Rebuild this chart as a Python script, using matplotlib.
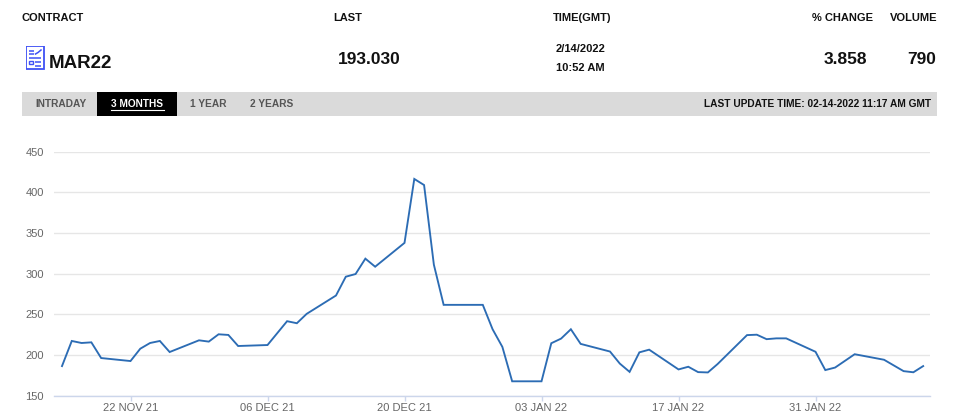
import matplotlib
matplotlib.use("Agg")
import matplotlib.pyplot as plt
import matplotlib.dates as mdates
from matplotlib.patches import Rectangle
from matplotlib.lines import Line2D
import datetime as dt

# ---------------- data ----------------
dates = [
    "2021-11-15", "2021-11-16", "2021-11-17", "2021-11-18", "2021-11-19",
    "2021-11-22", "2021-11-23", "2021-11-24", "2021-11-25", "2021-11-26",
    "2021-11-29", "2021-11-30", "2021-12-01", "2021-12-02", "2021-12-03",
    "2021-12-06", "2021-12-08", "2021-12-09", "2021-12-10",
    "2021-12-13", "2021-12-14", "2021-12-15", "2021-12-16", "2021-12-17",
    "2021-12-20", "2021-12-21", "2021-12-22", "2021-12-23", "2021-12-24",
    "2021-12-28", "2021-12-29", "2021-12-30", "2021-12-31",
    "2022-01-03", "2022-01-04", "2022-01-05", "2022-01-06", "2022-01-07",
    "2022-01-10", "2022-01-11", "2022-01-12", "2022-01-13", "2022-01-14",
    "2022-01-17", "2022-01-18", "2022-01-19", "2022-01-20", "2022-01-21",
    "2022-01-24", "2022-01-25", "2022-01-26", "2022-01-27", "2022-01-28",
    "2022-01-31", "2022-02-01", "2022-02-02", "2022-02-04",
    "2022-02-07", "2022-02-09", "2022-02-10", "2022-02-11",
]
prices = [
    186.4, 217.3, 214.8, 215.6, 196.3,
    192.6, 207.8, 214.8, 217.3, 203.7,
    218.1, 216.5, 225.5, 224.7, 211.1,
    212.3, 241.6, 239.1, 250.6,
    273.2, 296.3, 299.6, 318.5, 308.6,
    337.9, 416.5, 409.0, 311.1, 261.7,
    261.7, 231.7, 210.0, 167.7,
    167.7, 214.5, 220.2, 231.7, 213.7,
    204.3, 189.5, 179.3, 203.3, 206.6,
    182.3, 185.6, 179.0, 178.6, 189.0,
    224.5, 225.0, 219.5, 220.5, 220.5,
    204.0, 181.5, 184.6, 201.0,
    194.2, 180.2, 178.8, 186.4,
]
x_tick_dates = ["2021-11-22", "2021-12-06", "2021-12-20", "2022-01-03", "2022-01-17", "2022-01-31"]
y_ticks = [150, 200, 250, 300, 350, 400, 450]

header_labels = ["CONTRACT", "LAST", "TIME(GMT)", "% CHANGE", "VOLUME"]
contract = "MAR22"
last_price = "193.030"
time_date = "2/14/2022"
time_clock = "10:52 AM"
pct_change = "3.858"
volume = "790"
tabs = ["INTRADAY", "3 MONTHS", "1 YEAR", "2 YEARS"]
update_text = "LAST UPDATE TIME: 02-14-2022 11:17 AM GMT"

# ---------------- figure ----------------
W, H = 959, 420
fig = plt.figure(figsize=(W / 100, H / 100), dpi=100)
plt.rcParams["font.family"] = ["Liberation Sans", "DejaVu Sans"]

def fx(px):
    return px / W

def fy(py):
    return 1 - py / H

FONT = ["Liberation Sans", "DejaVu Sans"]

# header labels
hdr_pos = [(22, "left"), (333, "left"), (553, "left"), (873, "right"), (937, "right")]
for lab, (px, ha) in zip(header_labels, hdr_pos):
    fig.text(fx(px), fy(18), lab, ha=ha, va="center", fontsize=8, fontweight="bold",
             family=FONT, color="#111111")

# icon
ax_icon = fig.add_axes([fx(25.5), fy(69.5), fx(19), (69.5 - 45.5) / H])
ax_icon.set_xlim(0, 19)
ax_icon.set_ylim(24, 0)
ax_icon.axis("off")
blue = "#3f51f5"
ax_icon.add_patch(Rectangle((0.8, 0.8), 17.4, 22.4, fill=False, ec=blue, lw=1.3))
for (x0, x1, yy) in [(3.5, 8, 5), (3.5, 8, 8.5), (3.5, 15.5, 12.5), (9.5, 15.5, 16.5), (9.5, 15.5, 20)]:
    ax_icon.plot([x0, x1], [yy, yy], color=blue, lw=1.1, solid_capstyle="butt")
ax_icon.plot([10, 12.5, 15.5], [8.5, 7, 4.5], color=blue, lw=1.1)
ax_icon.add_patch(Rectangle((3.5, 15.2), 3.5, 3.5, fill=False, ec=blue, lw=1.0))

fig.text(fx(49), fy(63.5), contract, ha="left", va="center", fontsize=13.5, fontweight="bold",
         family=FONT, color="#111111")
fig.text(fx(338), fy(59), last_price, ha="left", va="center", fontsize=12.5, fontweight="bold",
         family=FONT, color="#111111")
fig.text(fx(556), fy(49), time_date, ha="left", va="center", fontsize=8, fontweight="bold",
         family=FONT, color="#111111")
fig.text(fx(556), fy(68), time_clock, ha="left", va="center", fontsize=8, fontweight="bold",
         family=FONT, color="#111111")
fig.text(fx(867), fy(60), pct_change, ha="right", va="center", fontsize=12.5, fontweight="bold",
         family=FONT, color="#111111")
fig.text(fx(936), fy(60), volume, ha="right", va="center", fontsize=12.5, fontweight="bold",
         family=FONT, color="#111111")

# tab bar
fig.patches.append(Rectangle((fx(22), fy(116)), fx(937 - 22), (116 - 92) / H,
                             transform=fig.transFigure, fc="#dadada", ec="none", zorder=0))
fig.patches.append(Rectangle((fx(97), fy(116)), fx(177 - 97), (116 - 92) / H,
                             transform=fig.transFigure, fc="#000000", ec="none", zorder=1))
tab_pos = [35, 111, 190, 250]
for t, px in zip(tabs, tab_pos):
    col = "#ffffff" if t == "3 MONTHS" else "#555555"
    fig.text(fx(px), fy(104), t, ha="left", va="center", fontsize=7.3, fontweight="bold",
             family=FONT, color=col, zorder=3)
fig.lines.append(Line2D([fx(111), fx(163.5)], [fy(109.5), fy(109.5)], transform=fig.transFigure,
                        color="#ffffff", lw=0.8, zorder=3))
fig.text(fx(931), fy(104), update_text, ha="right", va="center", fontsize=7.3, fontweight="bold",
         family=FONT, color="#111111", zorder=3)

# ---------------- chart ----------------
ax_left, ax_right = 54.3, 930
ax_top, ax_bot = 151.7, 395.7
ax = fig.add_axes([fx(ax_left), fy(ax_bot), fx(ax_right - ax_left), (ax_bot - ax_top) / H])

xd = [mdates.date2num(dt.datetime.strptime(d, "%Y-%m-%d")) for d in dates]
ax.plot(xd, prices, color="#2c6cb4", lw=1.35, solid_joinstyle="miter", zorder=3)

ref = mdates.date2num(dt.datetime(2021, 11, 22))
px_per_day = 9.786
ax.set_xlim(ref - (130.5 - ax_left) / px_per_day, ref + (ax_right - 130.5) / px_per_day)
ax.set_ylim(150, 450)

ax.set_yticks(y_ticks)
ax.set_yticklabels([str(v) for v in y_ticks])
xt = [mdates.date2num(dt.datetime.strptime(d, "%Y-%m-%d")) for d in x_tick_dates]
ax.set_xticks(xt)
ax.set_xticklabels([dt.datetime.strptime(d, "%Y-%m-%d").strftime("%d %b %y").upper() for d in x_tick_dates])

ax.grid(axis="y", color="#e6e6e6", lw=1)
ax.set_axisbelow(True)
for s in ["top", "right", "left"]:
    ax.spines[s].set_visible(False)
ax.spines["bottom"].set_color("#ccd6eb")
ax.spines["bottom"].set_linewidth(1)
ax.tick_params(axis="y", length=0, pad=7.5, labelsize=8, labelcolor="#666666")
ax.tick_params(axis="x", length=3.5, width=1, color="#ccd6eb", pad=1.5, labelsize=8, labelcolor="#666666")
for lab in ax.get_xticklabels() + ax.get_yticklabels():
    lab.set_family(FONT)

fig.savefig("out.png", dpi=100)
